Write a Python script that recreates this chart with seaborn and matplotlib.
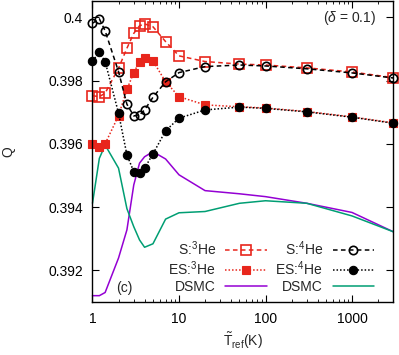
#!/usr/bin/env python3
"""Q versus reference temperature, S / ES model vs DSMC (panel c)."""
import matplotlib
matplotlib.use("Agg")
import matplotlib.pyplot as plt
from matplotlib.ticker import FuncFormatter, FixedLocator, LogLocator, NullFormatter
import seaborn as sns

# Reference temperatures (K)
T_ref = [1, 1.2, 1.4, 2, 2.5, 3, 3.5, 4, 5, 7, 10, 20, 50, 100, 300, 1000, 3000]

# S model
s_he3 = [0.39752, 0.39749, 0.39760, 0.39839, 0.39902, 0.39949, 0.39973, 0.39979, 0.39970,
         0.39923, 0.39878, 0.39860, 0.39852, 0.39849, 0.39840, 0.39827, 0.39809]
s_he4 = [0.39981, 0.39995, 0.39957, 0.39828, 0.39725, 0.39688, 0.39691, 0.39707, 0.39747,
         0.39796, 0.39825, 0.39844, 0.39849, 0.39846, 0.39837, 0.39824, 0.39808]

# ES model
es_he3 = [0.39599, 0.39591, 0.39600, 0.39689, 0.39772, 0.39825, 0.39860, 0.39872, 0.39862,
          0.39796, 0.39749, 0.39723, 0.39717, 0.39713, 0.39702, 0.39685, 0.39666]
es_he4 = [0.39862, 0.39889, 0.39860, 0.39697, 0.39565, 0.39512, 0.39509, 0.39523, 0.39568,
          0.39641, 0.39681, 0.39707, 0.39716, 0.39712, 0.39701, 0.39684, 0.39665]

# DSMC
dsmc_he3 = [0.39120, 0.39120, 0.39130, 0.39239, 0.39328, 0.39470, 0.39539, 0.39559, 0.39575,
            0.39552, 0.39502, 0.39452, 0.39442, 0.39433, 0.39412, 0.39383, 0.39322]
dsmc_he4 = [0.39412, 0.39554, 0.39596, 0.39523, 0.39395, 0.39338, 0.39296, 0.39273, 0.39284,
            0.39362, 0.39382, 0.39386, 0.39412, 0.39420, 0.39412, 0.39372, 0.39322]

y_ticks = [0.392, 0.394, 0.396, 0.398, 0.4]
x_ticks = [1, 10, 100, 1000]

RED = "#e8261c"
BLACK = "black"
PURPLE = "#9400d3"
GREEN = "#009e73"

sns.set_theme(style="ticks")
plt.rcParams["font.family"] = ["Liberation Sans", "DejaVu Sans"]
plt.rcParams["mathtext.fontset"] = "custom"
plt.rcParams["mathtext.rm"] = "Liberation Sans"
plt.rcParams["mathtext.it"] = "Liberation Sans:italic"
plt.rcParams["font.size"] = 10

fig = plt.figure(figsize=(3.99, 3.55), dpi=100)
ax = fig.add_axes([0.2318, 0.1493, 0.7539, 0.8467])

dashed = (0, (3.0, 2.2))
dotted = (0, (1.0, 1.3))
lw = 1.1

# DSMC curves first so the model markers sit on top
sns.lineplot(x=T_ref, y=dsmc_he3, ax=ax, color=PURPLE, lw=lw, label="DSMC", clip_on=False)
sns.lineplot(x=T_ref, y=dsmc_he4, ax=ax, color=GREEN, lw=lw, label="DSMC ", clip_on=False)

sns.lineplot(x=T_ref, y=s_he3, ax=ax, color=RED, lw=lw, linestyle=dashed,
             marker="s", markersize=6.5, markerfacecolor="none", markeredgecolor=RED,
             markeredgewidth=1.2, label="S:$^3$He", clip_on=False)
sns.lineplot(x=T_ref, y=es_he3, ax=ax, color=RED, lw=lw, linestyle=dotted,
             marker="s", markersize=6.0, markerfacecolor=RED, markeredgecolor=RED,
             markeredgewidth=0.8, label="ES:$^3$He", clip_on=False)
sns.lineplot(x=T_ref, y=s_he4, ax=ax, color=BLACK, lw=lw, linestyle=dashed,
             marker="o", markersize=6.0, markerfacecolor="none", markeredgecolor=BLACK,
             markeredgewidth=1.2, label="S:$^4$He", clip_on=False)
sns.lineplot(x=T_ref, y=es_he4, ax=ax, color=BLACK, lw=lw, linestyle=dotted,
             marker="o", markersize=6.0, markerfacecolor=BLACK, markeredgecolor=BLACK,
             markeredgewidth=0.8, label="ES:$^4$He", clip_on=False)

ax.set_xscale("log")
ax.set_xlim(1, 3000)
ax.set_ylim(0.391, 0.4005)

ax.xaxis.set_major_locator(FixedLocator(x_ticks))
ax.xaxis.set_major_formatter(FuncFormatter(lambda v, p: f"{v:g}"))
ax.xaxis.set_minor_locator(LogLocator(base=10, subs=range(2, 10), numticks=20))
ax.xaxis.set_minor_formatter(NullFormatter())
ax.yaxis.set_major_locator(FixedLocator(y_ticks))
ax.yaxis.set_major_formatter(FuncFormatter(lambda v, p: f"{v:g}"))

ax.tick_params(which="both", direction="in", top=True, right=True, labelsize=10,
               color="black", labelcolor="black", pad=7)
ax.tick_params(which="major", length=5, width=0.8)
ax.tick_params(which="minor", length=2.5, width=0.6)
for sp in ax.spines.values():
    sp.set_color("black")
    sp.set_linewidth(1.0)

ax.set_xlabel(r"$\tilde{\mathrm{T}}_{\mathrm{ref}}$(K)", fontsize=10)
ax.set_ylabel("Q", fontsize=10, rotation=90)
ax.yaxis.set_label_coords(-0.255, 0.5)
ax.xaxis.set_label_coords(0.5, -0.095)

ax.text(0.105, 0.045, "(c)", transform=ax.transAxes, ha="center", va="center", fontsize=10)
ax.text(0.855, 0.944, r"($\delta$ = 0.1)", transform=ax.transAxes, ha="center", va="center",
        fontsize=10)

# legend laid out like gnuplot: label first, sample after, two columns
handles, labels = ax.get_legend_handles_labels()
order = ["S:$^3$He", "ES:$^3$He", "DSMC", "S:$^4$He", "ES:$^4$He", "DSMC "]
lut = dict(zip(labels, handles))
ax.legend([lut[k] for k in order], [k.strip() for k in order], ncol=2, markerfirst=False,
          frameon=False, loc="lower right", bbox_to_anchor=(0.96, 0.005),
          borderpad=0, handlelength=3.0, handletextpad=0.7, columnspacing=0.6,
          labelspacing=0.1, fontsize=10)

fig.savefig("out.png", dpi=100)
